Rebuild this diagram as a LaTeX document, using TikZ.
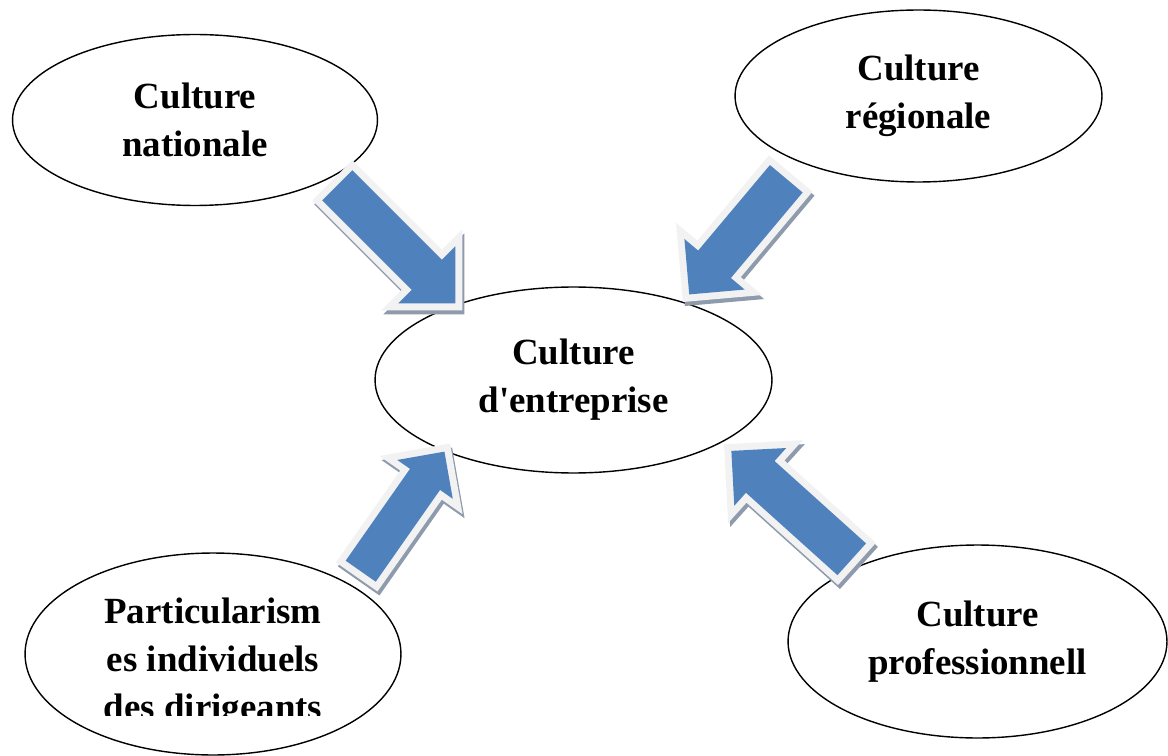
\documentclass[tikz,border=0pt]{standalone}
\usepackage{fontspec}
\setmainfont{Liberation Serif}
\usetikzlibrary{shapes.geometric, shapes.arrows}

\definecolor{flowblue}{HTML}{4F81BD}
\definecolor{flowrim}{HTML}{F2F2F2}
\definecolor{flowshade}{HTML}{8E9BAD}

\begin{document}
\begin{tikzpicture}[
    % one unit = one pixel of the page, y runs downwards
    x=0.02cm, y=-0.02cm,
    font=\bfseries\fontsize{21}{27.3}\selectfont,
    % 1. Culture bubbles
    cult/.style={ellipse, draw=black, line width=0.8pt, fill=white, inner sep=0pt, align=center},
    % 2. Block arrows: shadow, light rim, blue body (shaft width = text height)
    flow/.style={single arrow, single arrow tip angle=90, inner sep=0pt, text depth=0pt, fill=flowblue, line join=miter,
        preaction={draw=flowshade, fill=flowshade, line width=0.28cm, line join=miter,
            transform canvas={xshift=0.04cm, yshift=-0.08cm}},
        preaction={draw=flowrim, line width=0.28cm, line join=miter}}
]
\useasboundingbox (0,0) rectangle (1168,756);

% ===============================
% Bubbles
% ===============================
\node[cult, minimum width=7.30cm, minimum height=3.42cm] (nat) at (195,120) {Culture\\nationale};
\node[cult, minimum width=7.34cm, minimum height=3.44cm] (reg) at (918.5,96) {Culture\\régionale};
\node[cult, minimum width=7.94cm, minimum height=3.72cm] (ent) at (573.5,380) {Culture\\d\textquotesingle entreprise};
\node[cult, minimum width=7.52cm, minimum height=4.04cm] (par) at (213,654) {};
\node[cult, minimum width=7.58cm, minimum height=3.86cm] (pro) at (977.5,641.5) {Culture\\professionnell};

% last line of the bottom-left bubble is cut off
\begin{scope}
    \clip (0,550) rectangle (1168,715);
    \node[align=center, inner sep=0pt, anchor=north] (partxt) at (213,598) {Particularism\\es individuels\\des dirigeants};
\end{scope}

% ===============================
% Arrows into the central bubble
% ===============================
\node[flow, minimum height=3.34cm, text height=0.84cm, single arrow head extend=0.38cm, rotate=-45, anchor=tail] (f1) at (337,185) {};
\node[flow, minimum height=3.02cm, text height=0.84cm, single arrow head extend=0.36cm, rotate=-130, anchor=tail] (f2) at (786.5,178.5) {};
\node[flow, minimum height=2.92cm, text height=0.72cm, single arrow head extend=0.31cm, rotate=55, anchor=tail] (f3) at (360.5,571.5) {};
\node[flow, minimum height=3.24cm, text height=0.84cm, single arrow head extend=0.35cm, rotate=138, anchor=tail] (f4) at (852,559.5) {};

\end{tikzpicture}
\end{document}
